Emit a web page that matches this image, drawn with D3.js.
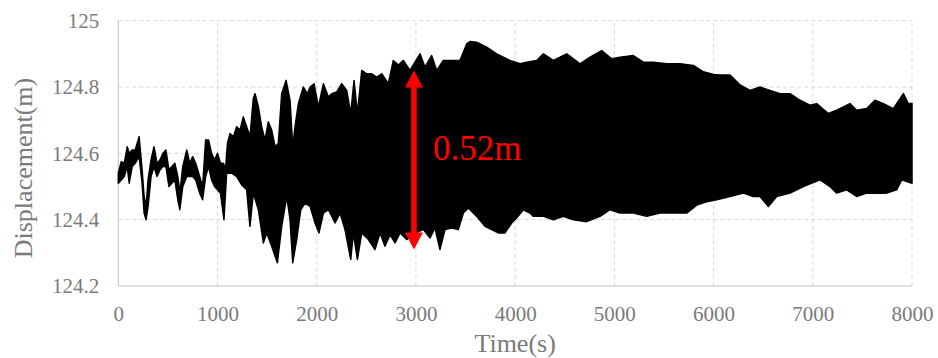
<!DOCTYPE html>
<html>
<head>
<meta charset="utf-8">
<script src="https://cdn.jsdelivr.net/npm/d3@7/dist/d3.min.js"></script>
<style>
  body { margin: 0; background: #fff; }
  .tick text { font-family: "Liberation Serif", "Times New Roman", serif; fill: #7a7a7a; font-size: 21px; }
  .label { font-family: "Liberation Serif", "Times New Roman", serif; fill: #7a7a7a; font-size: 26px; }
</style>
</head>
<body>
<div id="chart"></div>
<script>
// upper envelope of the displacement record
const upperTime = [0, 30, 60, 90, 110, 140, 170, 210, 240, 260, 280, 300, 330, 360, 390, 420, 450, 480, 510, 540,
  570, 600, 620, 650, 690, 720, 750, 780, 820, 850, 880, 910, 940, 970, 1000, 1030, 1060, 1080, 1100, 1126,
  1160, 1193, 1227, 1260, 1294, 1327, 1361, 1378, 1412, 1445, 1479, 1512, 1546, 1580, 1613, 1647, 1691, 1731, 1758, 1781,
  1815, 1865, 1906, 1933, 1973, 2017, 2067, 2118, 2151, 2202, 2252, 2302, 2343, 2376, 2410, 2454, 2504, 2554, 2605, 2655,
  2722, 2772, 2823, 2873, 2940, 3041, 3091, 3158, 3209, 3276, 3377, 3444, 3511, 3545, 3612, 3713, 3814, 3881, 3948, 4049,
  4117, 4217, 4285, 4385, 4520, 4654, 4755, 4872, 4973, 5057, 5191, 5292, 5393, 5527, 5662, 5796, 5897, 6000, 6066, 6166,
  6267, 6368, 6468, 6569, 6670, 6771, 6871, 6972, 7039, 7157, 7241, 7375, 7442, 7543, 7627, 7711, 7812, 7913, 7963, 8000];
const upperDisp = [124.54, 124.575, 124.57, 124.62, 124.60, 124.61, 124.61, 124.65, 124.55, 124.47, 124.44, 124.52, 124.58, 124.62, 124.57, 124.58, 124.60, 124.61, 124.55, 124.56,
  124.57, 124.53, 124.48, 124.56, 124.61, 124.57, 124.59, 124.57, 124.53, 124.50, 124.64, 124.64, 124.60, 124.58, 124.60, 124.57, 124.57, 124.55, 124.63, 124.66,
  124.65, 124.68, 124.67, 124.71, 124.68, 124.65, 124.766, 124.78, 124.74, 124.68, 124.64, 124.695, 124.67, 124.62, 124.63, 124.78, 124.82, 124.76, 124.62, 124.68,
  124.75, 124.80, 124.78, 124.80, 124.81, 124.74, 124.81, 124.77, 124.78, 124.785, 124.81, 124.79, 124.72, 124.82, 124.72, 124.85, 124.84, 124.84, 124.83, 124.84,
  124.81, 124.88, 124.866, 124.88, 124.85, 124.90, 124.86, 124.895, 124.85, 124.88, 124.88, 124.88, 124.93, 124.937, 124.935, 124.92, 124.90, 124.89, 124.88, 124.87,
  124.875, 124.88, 124.90, 124.88, 124.90, 124.87, 124.89, 124.91, 124.885, 124.89, 124.895, 124.875, 124.875, 124.87, 124.87, 124.865, 124.846, 124.838, 124.836, 124.836,
  124.806, 124.79, 124.80, 124.79, 124.78, 124.78, 124.76, 124.745, 124.75, 124.72, 124.73, 124.75, 124.73, 124.735, 124.76, 124.75, 124.735, 124.78, 124.75, 124.75];

// lower envelope
const lowerTime = [0, 30, 60, 90, 110, 140, 170, 210, 240, 260, 280, 300, 330, 360, 390, 420, 450, 480, 510, 540,
  570, 600, 620, 650, 690, 720, 750, 780, 820, 850, 880, 910, 940, 970, 1000, 1030, 1065, 1092, 1143, 1193,
  1244, 1294, 1327, 1361, 1412, 1462, 1496, 1546, 1603, 1647, 1698, 1731, 1758, 1798, 1839, 1882, 1933, 1983, 2023, 2067,
  2118, 2185, 2235, 2285, 2343, 2369, 2410, 2454, 2521, 2587, 2638, 2688, 2739, 2789, 2840, 2907, 2991, 3075, 3142, 3192,
  3242, 3293, 3360, 3427, 3478, 3528, 3612, 3696, 3763, 3830, 3897, 3965, 4015, 4082, 4150, 4184, 4285, 4385, 4486, 4587,
  4721, 4856, 4956, 5057, 5191, 5326, 5460, 5595, 5729, 5830, 5930, 6031, 6166, 6301, 6401, 6468, 6552, 6636, 6771, 6905,
  7073, 7174, 7241, 7342, 7442, 7543, 7644, 7745, 7845, 7896, 8000];
const lowerDisp = [124.51, 124.52, 124.53, 124.56, 124.51, 124.56, 124.57, 124.59, 124.51, 124.42, 124.40, 124.44, 124.53, 124.56, 124.53, 124.55, 124.56, 124.56, 124.50, 124.51,
  124.52, 124.46, 124.43, 124.50, 124.53, 124.53, 124.53, 124.52, 124.48, 124.46, 124.53, 124.56, 124.52, 124.50, 124.49, 124.48, 124.40, 124.54, 124.54, 124.53,
  124.505, 124.49, 124.38, 124.48, 124.43, 124.33, 124.36, 124.32, 124.27, 124.38, 124.47, 124.40, 124.27, 124.34, 124.43, 124.45, 124.44, 124.39, 124.36, 124.42,
  124.43, 124.39, 124.42, 124.37, 124.28, 124.36, 124.28, 124.36, 124.34, 124.31, 124.36, 124.32, 124.355, 124.33, 124.36, 124.34, 124.36, 124.37, 124.345, 124.375,
  124.31, 124.37, 124.375, 124.37, 124.42, 124.435, 124.41, 124.38, 124.37, 124.36, 124.36, 124.39, 124.405, 124.43, 124.42, 124.41, 124.41, 124.40, 124.41, 124.40,
  124.394, 124.41, 124.43, 124.42, 124.42, 124.41, 124.42, 124.42, 124.42, 124.444, 124.454, 124.46, 124.47, 124.48, 124.47, 124.47, 124.44, 124.47, 124.48, 124.50,
  124.52, 124.50, 124.48, 124.49, 124.47, 124.48, 124.48, 124.48, 124.49, 124.52, 124.51];

const xTicks = [0, 1000, 2000, 3000, 4000, 5000, 6000, 7000, 8000];
const yTicks = [124.2, 124.4, 124.6, 124.8, 125];

// amplitude marker
const arrowTime = 2980;
const arrowLow = 124.31;
const arrowHigh = 124.85;
const arrowText = '0.52m';

const W = 938, H = 358;
const margin = { top: 20.7, right: 26, bottom: 72, left: 118.3 };
const width = W - margin.left - margin.right;
const height = H - margin.top - margin.bottom;

const svg = d3.select('#chart').append('svg')
  .attr('width', W)
  .attr('height', H);

const x = d3.scaleLinear().domain([0, 8000]).range([margin.left, margin.left + width]);
const y = d3.scaleLinear().domain([124.2, 125]).range([margin.top + height, margin.top]);

// grid
svg.append('g').selectAll('line.hg')
  .data(yTicks.slice(1))
  .join('line')
  .attr('x1', x(0)).attr('x2', x(8000))
  .attr('y1', d => y(d)).attr('y2', d => y(d))
  .attr('stroke', '#d9d9d9').attr('stroke-dasharray', '4,3');
svg.append('g').selectAll('line.vg')
  .data(xTicks.slice(1))
  .join('line')
  .attr('x1', d => x(d)).attr('x2', d => x(d))
  .attr('y1', y(124.2)).attr('y2', y(125))
  .attr('stroke', '#d9d9d9').attr('stroke-dasharray', '4,3');

// axes lines
svg.append('line')
  .attr('x1', x(0)).attr('x2', x(0)).attr('y1', y(124.2)).attr('y2', y(125))
  .attr('stroke', '#bfbfbf');
svg.append('line')
  .attr('x1', x(0)).attr('x2', x(8000)).attr('y1', y(124.2)).attr('y2', y(124.2))
  .attr('stroke', '#bfbfbf');

const xAxis = svg.append('g')
  .attr('transform', `translate(0, ${y(124.2)})`)
  .call(d3.axisBottom(x).tickValues(xTicks).tickSize(0).tickPadding(20).tickFormat(d3.format('d')));
xAxis.select('.domain').remove();

const yAxis = svg.append('g')
  .attr('transform', `translate(${x(0)}, 0)`)
  .call(d3.axisLeft(y).tickValues(yTicks).tickSize(0).tickPadding(19).tickFormat(d => String(d)));
yAxis.select('.domain').remove();

// displacement band
const pts = upperTime.map((t, i) => [t, upperDisp[i]])
  .concat(lowerTime.map((t, i) => [t, lowerDisp[i]]).reverse());
const band = d3.line().x(d => x(d[0])).y(d => y(d[1]));
svg.append('path')
  .attr('d', band(pts) + 'Z')
  .attr('fill', '#000')
  .attr('stroke', '#000')
  .attr('stroke-width', 1.5)
  .attr('stroke-linejoin', 'round');

// red arrow
const ax = x(arrowTime);
const headH = 17, headW = 9;
svg.append('line')
  .attr('x1', ax).attr('x2', ax)
  .attr('y1', y(arrowHigh) + headH - 1).attr('y2', y(arrowLow) - headH + 1)
  .attr('stroke', '#ff0000').attr('stroke-width', 5.5);
svg.append('path')
  .attr('d', `M${ax},${y(arrowHigh)}L${ax - headW},${y(arrowHigh) + headH}L${ax + headW},${y(arrowHigh) + headH}Z`)
  .attr('fill', '#ff0000');
svg.append('path')
  .attr('d', `M${ax},${y(arrowLow)}L${ax - headW},${y(arrowLow) - headH}L${ax + headW},${y(arrowLow) - headH}Z`)
  .attr('fill', '#ff0000');
svg.append('text')
  .attr('x', ax + 19)
  .attr('y', 160)
  .attr('fill', '#ff0000')
  .style('font-family', '"Liberation Serif", "Times New Roman", serif')
  .style('font-size', '35px')
  .text(arrowText);

// axis titles
svg.append('text')
  .attr('class', 'label')
  .attr('x', margin.left + width / 2)
  .attr('y', 352)
  .attr('text-anchor', 'middle')
  .text('Time(s)');
svg.append('text')
  .attr('class', 'label')
  .attr('transform', `translate(32, ${168}) rotate(-90)`)
  .attr('text-anchor', 'middle')
  .text('Displacement(m)');
</script>
</body>
</html>
